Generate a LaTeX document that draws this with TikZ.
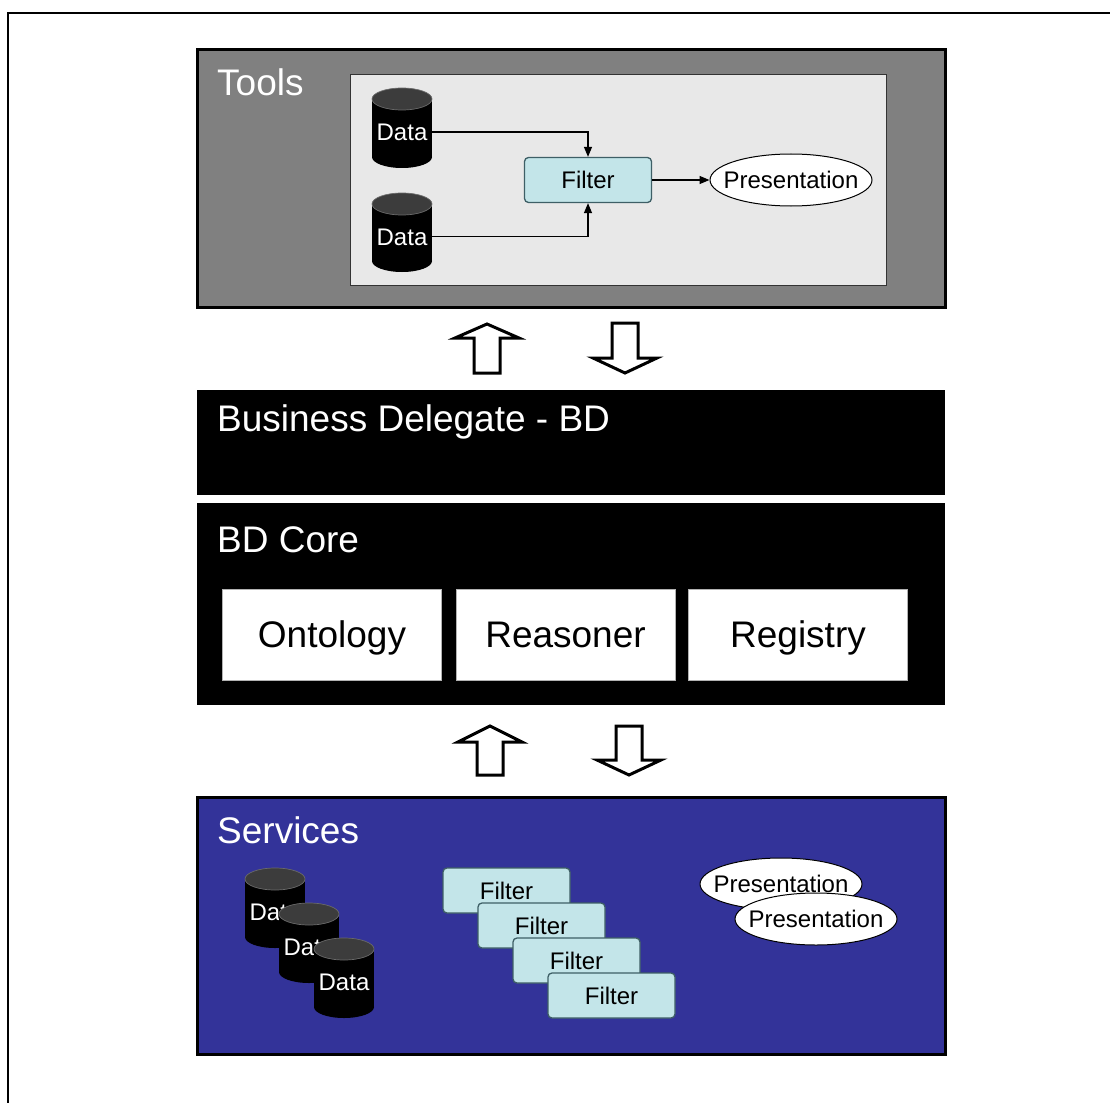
\documentclass[tikz,border=0pt]{standalone}
\usepackage{fontspec}
\setmainfont{Liberation Sans}
\usetikzlibrary{arrows.meta,shapes.geometric}

\definecolor{toolgray}{HTML}{808080}
\definecolor{panelgray}{HTML}{E8E8E8}
\definecolor{filterblue}{HTML}{C3E5E9}
\definecolor{filteredge}{HTML}{3E5F66}
\definecolor{servblue}{HTML}{333399}
\definecolor{cyltop}{HTML}{3C3C3C}
\definecolor{cylrim}{HTML}{6A6A6A}

% database cylinder: name, centre x, top y, bottom y
\newcommand\datacyl[4]{%
  \fill[black] (#2-30,#3+11) rectangle (#2+30,#4-11);
  \fill[black] (#2,#4-11) ellipse [x radius=30pt, y radius=11pt];
  \filldraw[fill=cyltop, draw=cylrim, line width=0.7pt] (#2,#3+11) ellipse [x radius=30pt, y radius=11pt];
  \node[datatext] (#1) at (#2,{(#3+#4)/2+4}) {Data};
}

% hollow block arrows: centre x, tip y, head base y, tail y
\newcommand\blockarrow[4]{%
  \filldraw[blockarr] (#1,#2) -- (#1+32,#3) -- (#1+13,#3) -- (#1+13,#4)
    -- (#1-13,#4) -- (#1-13,#3) -- (#1-32,#3) -- cycle;
}

\begin{document}
\begin{tikzpicture}[x=1pt,y=-1pt,
  layertitle/.style={text=white, font=\fontsize{37}{44}\selectfont, anchor=base west, inner sep=0pt},
  datatext/.style={text=white, font=\fontsize{24}{28}\selectfont, inner sep=0pt,
    minimum width=60pt, text height=17pt, text depth=0pt},
  filterbox/.style={draw=filteredge, line width=1.3pt, fill=filterblue, rounded corners=4pt,
    minimum width=127pt, minimum height=45pt, inner sep=0pt,
    font=\fontsize{24}{28}\selectfont, text height=17pt, text depth=0pt},
  presbox/.style={ellipse, draw=black, fill=white, line width=1pt,
    minimum width=162pt, minimum height=52pt, inner sep=0pt,
    font=\fontsize{24}{28}\selectfont, text height=17pt, text depth=0pt},
  partbox/.style={draw=gray!60, fill=white, line width=0.8pt, minimum width=219pt, minimum height=91pt,
    inner sep=0pt, font=\fontsize{37}{44}\selectfont, text height=26pt, text depth=0pt},
  conn/.style={line width=1.3pt, -{Triangle[length=10pt, width=8pt]}},
  blockarr/.style={fill=white, draw=black, line width=3pt, miter limit=10},
  layer/.style={line width=3pt, draw=black}
]
\path[use as bounding box, clip] (0,0) rectangle (1110,1102);
\fill[white] (0,0) rectangle (1110,1102);

% outer frame
\draw[line width=2.5pt] (8,13) rectangle (1130,1130);

% ---- Tools layer ----
\draw[layer, fill=toolgray] (197,50) rectangle (945,307);
\node[layertitle] (toolsT) at (217,96) {Tools};
\draw[fill=panelgray, draw=black!80, line width=1pt] (350,75) rectangle (886,285);

\datacyl{d1}{402}{88}{168}
\datacyl{d2}{402}{193}{272}
\node[filterbox] (filt) at (588,180) {Filter};
\node[presbox] (pres) at (791,180) {\makebox[0pt]{Presentation}};
\draw[conn] (d1.east) -| (filt.north);
\draw[conn] (d2.east) -| (filt.south);
\draw[conn] (filt.east) -- (pres.west);

% ---- arrows between tools and delegate ----
\blockarrow{487}{324}{338}{373}
\blockarrow{625}{373}{358}{323}

% ---- Business Delegate ----
\fill[black] (197,390) rectangle (945,495);
\node[layertitle] (bdT) at (217,431) {Business Delegate - BD};

% ---- BD Core ----
\fill[black] (197,503) rectangle (945,705);
\node[layertitle] (coreT) at (217,552) {BD Core};
\node[partbox] (onto) at (332,634.5) {Ontology};
\node[partbox] (reas) at (565.5,634.5) {Reasoner};
\node[partbox] (regi) at (798,634.5) {Registry};

% ---- arrows between core and services ----
\blockarrow{490}{726}{742}{775}
\blockarrow{629}{775}{760}{726}

% ---- Services layer ----
\draw[layer, fill=servblue] (197,797) rectangle (945,1054);
\node[layertitle] (servT) at (217,843) {Services};

\datacyl{s1}{275}{868}{948}
\datacyl{s2}{309}{903}{983}
\datacyl{s3}{344}{938}{1018}

\node[filterbox] (sf1) at (506.5,890.5) {Filter};
\node[filterbox] (sf2) at (541.5,925.5) {Filter};
\node[filterbox] (sf3) at (576.5,960.5) {Filter};
\node[filterbox] (sf4) at (611.5,995.5) {Filter};

\node[presbox] (sp1) at (781,884) {\makebox[0pt]{Presentation}};
\node[presbox] (sp2) at (816,919) {\makebox[0pt]{Presentation}};
\end{tikzpicture}
\end{document}
